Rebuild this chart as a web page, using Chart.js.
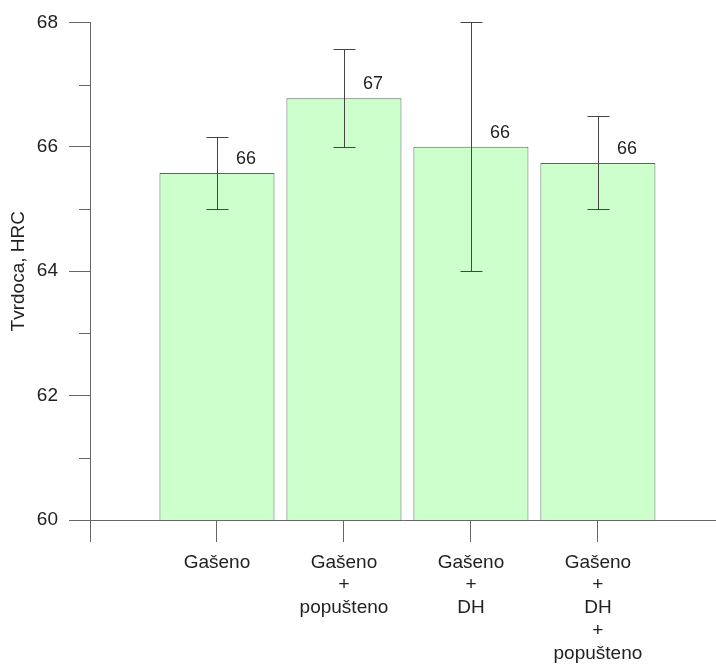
<!DOCTYPE html>
<html>
<head>
<meta charset="utf-8">
<script src="https://cdn.jsdelivr.net/npm/chart.js@4"></script>
<style>
  html, body { margin: 0; padding: 0; background: #fff; }
  #wrap { width: 716px; height: 671px; }
</style>
</head>
<body>
<div id="wrap"><canvas id="hrc-chart"></canvas></div>
<script>
// data
const categories = [
  ["Gašeno"],
  ["Gašeno", "+", "popušteno"],
  ["Gašeno", "+", "DH"],
  ["Gašeno", "+", "DH", "+", "popušteno"]
];
const positions = [1, 2, 3, 4];
const hardness = [65.58, 66.78, 66.0, 65.74];
const errLow = [65.0, 66.0, 64.0, 65.0];
const errHigh = [66.16, 67.57, 68.0, 66.5];
const valueLabels = ["66", "67", "66", "66"];
const yTicks = [60, 62, 64, 66, 68];
const yMinor = [61, 63, 65, 67];

const axisColor = '#666';
const textColor = '#222';

// error bars, value labels and the short minor ticks on the y axis
const extras = {
  id: 'extras',
  afterDatasetsDraw(chart) {
    const ctx = chart.ctx;
    const y = chart.scales.y;
    const meta = chart.getDatasetMeta(0);
    ctx.save();
    ctx.lineWidth = 1;
    meta.data.forEach((bar, i) => {
      const x = Math.round(bar.x) + 0.5;
      const top = Math.round(y.getPixelForValue(errHigh[i])) + 0.5;
      const bot = Math.round(y.getPixelForValue(errLow[i])) + 0.5;
      ctx.strokeStyle = '#444';
      ctx.beginPath();
      ctx.moveTo(x, top); ctx.lineTo(x, bot);
      ctx.moveTo(x - 11, top); ctx.lineTo(x + 11, top);
      ctx.moveTo(x - 11, bot); ctx.lineTo(x + 11, bot);
      ctx.stroke();

      ctx.fillStyle = textColor;
      ctx.font = '18px Arial, "Liberation Sans", sans-serif';
      ctx.textAlign = 'left';
      ctx.textBaseline = 'middle';
      ctx.fillText(valueLabels[i], bar.x + 19, bar.y - 14);
    });

    const left = chart.chartArea.left;
    ctx.strokeStyle = axisColor;
    ctx.beginPath();
    yMinor.forEach(v => {
      const py = Math.round(y.getPixelForValue(v)) + 0.5;
      ctx.moveTo(left - 11, py);
      ctx.lineTo(left, py);
    });
    ctx.stroke();
    ctx.restore();
  }
};

new Chart(document.getElementById('hrc-chart'), {
  type: 'bar',
  data: {
    datasets: [{
      data: hardness.map((v, i) => ({ x: positions[i], y: v })),
      backgroundColor: '#ccffcc',
      borderColor: '#536b55',
      borderWidth: 1,
      categoryPercentage: 0.906,
      barPercentage: 1
    }]
  },
  options: {
    responsive: true,
    maintainAspectRatio: false,
    animation: false,
    layout: { padding: { top: 20, right: 0, bottom: 0, left: 0 } },
    plugins: {
      legend: { display: false },
      tooltip: { enabled: false }
    },
    scales: {
      x: {
        type: 'linear',
        min: 0,
        max: 4.93,
        offset: false,
        grid: { drawOnChartArea: false, offset: false, tickLength: 22, color: axisColor },
        border: { color: axisColor },
        ticks: {
          stepSize: 1,
          includeBounds: false,
          autoSkip: false,
          maxRotation: 0,
          padding: 9,
          color: textColor,
          font: { family: 'Arial, "Liberation Sans", sans-serif', size: 19, lineHeight: 1.2 },
          callback: v => categories[v - 1] || ''
        },
        afterFit: scale => { scale.height = 151; }
      },
      y: {
        min: 60,
        max: 68,
        grid: {
          drawOnChartArea: false,
          tickLength: 21,
          color: axisColor,
          tickColor: c => (c.tick && yTicks.includes(c.tick.value)) ? axisColor : 'rgba(0,0,0,0)'
        },
        border: { color: axisColor },
        ticks: {
          stepSize: 1,
          padding: 11,
          color: textColor,
          font: { family: 'Arial, "Liberation Sans", sans-serif', size: 19 },
          callback: v => yTicks.includes(v) ? String(v) : ''
        },
        title: {
          display: true,
          text: 'Tvrdoca, HRC',
          color: textColor,
          padding: { top: 7, bottom: 0 },
          font: { family: 'Arial, "Liberation Sans", sans-serif', size: 19 }
        },
        afterFit: scale => { scale.width = 90; }
      }
    }
  },
  plugins: [extras]
});
</script>
</body>
</html>
